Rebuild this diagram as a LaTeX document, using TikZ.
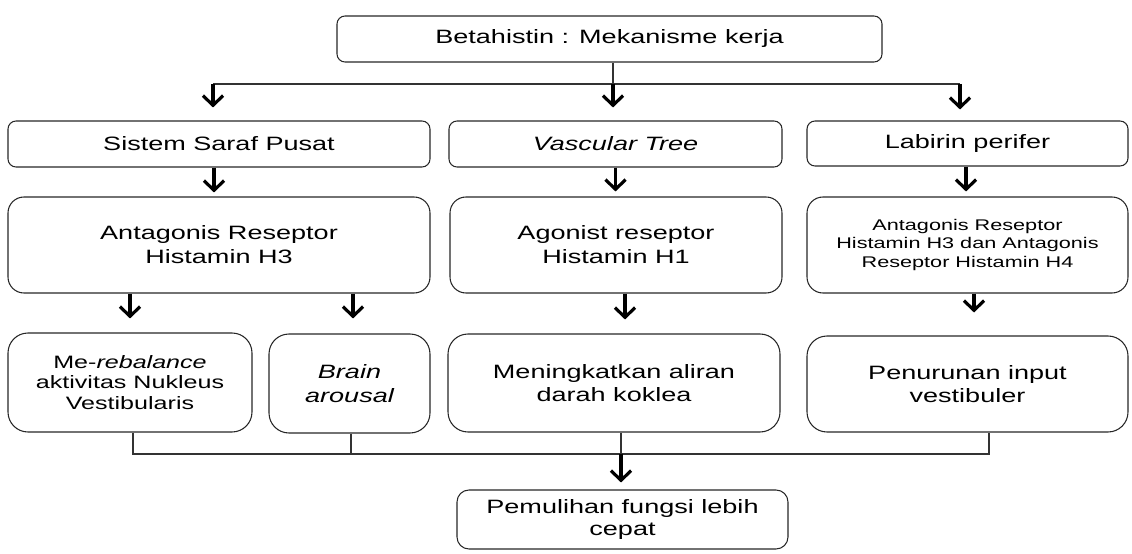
\documentclass[tikz,border=0pt]{standalone}
\usepackage{fontspec}
\setmainfont{Liberation Sans}[FakeStretch=1.4]
\usetikzlibrary{arrows.meta,calc}
\begin{document}
\begin{tikzpicture}[x=0.02cm,y=-0.02cm,
  box/.style={draw=black!85,line width=0.6pt,rounded corners=8*0.02cm,inner sep=0pt,align=center,
    font=\fontsize{11}{13.6}\selectfont},
  tall/.style={rounded corners=16*0.02cm},
  conn/.style={draw=black!80,line width=0.7pt},
  arr/.style={draw=black,line width=1.8pt,-{Straight Barb[length=5.5pt,width=11.5pt,line width=1.8pt]}},
]
\useasboundingbox (0,0) rectangle (1132,554);
% nodes
\node[box,minimum width=545*0.02cm,minimum height=46*0.02cm] (top) at (609.5,39) {Betahistin : Mekanisme kerja};
\node[box,minimum width=422*0.02cm,minimum height=46*0.02cm] (ssp) at (219,144) {Sistem Saraf Pusat};
\node[box,minimum width=333*0.02cm,minimum height=46*0.02cm] (vt) at (615.5,144) {\itshape Vascular Tree};
\node[box,minimum width=321*0.02cm,minimum height=45*0.02cm] (lp) at (967.5,143.5) {Labirin perifer};
\node[box,tall,minimum width=422*0.02cm,minimum height=96*0.02cm] (ah3) at (219,245) {Antagonis Reseptor\\Histamin H3};
\node[box,tall,minimum width=332*0.02cm,minimum height=96*0.02cm] (ah1) at (616,245) {Agonist reseptor\\Histamin H1};
\node[box,tall,minimum width=321*0.02cm,minimum height=96*0.02cm,font=\fontsize{8.8}{10.4}\selectfont] (ah34) at (967.5,245) {Antagonis Reseptor\\Histamin H3 dan Antagonis\\Reseptor Histamin H4};
\node[box,tall,rounded corners=20*0.02cm,minimum width=244*0.02cm,minimum height=99*0.02cm,font=\fontsize{10.2}{11.6}\selectfont] (reb) at (130,382.5) {Me-\textit{rebalance}\\aktivitas Nukleus\\Vestibularis};
\node[box,tall,rounded corners=20*0.02cm,minimum width=161*0.02cm,minimum height=99*0.02cm] (brain) at (349.5,383.5) {\itshape Brain\\\itshape arousal};
\node[box,tall,rounded corners=20*0.02cm,minimum width=332*0.02cm,minimum height=98*0.02cm,font=\fontsize{11}{12.9}\selectfont] (mak) at (614,383) {Meningkatkan aliran\\darah koklea};
\node[box,tall,rounded corners=20*0.02cm,minimum width=321*0.02cm,minimum height=96*0.02cm,font=\fontsize{11}{13.4}\selectfont] (pen) at (967.5,384) {Penurunan input\\vestibuler};
\node[box,rounded corners=12*0.02cm,minimum width=331*0.02cm,minimum height=59*0.02cm,font=\fontsize{11}{12.5}\selectfont] (pem) at (622.5,519.5) {Pemulihan fungsi lebih\\cepat};
% top distribution
\coordinate (hl) at (213,84);
\coordinate (hc) at (613,84);
\coordinate (hr) at (960,84);
\draw[conn] (hc |- top.south) -- (hc);
\draw[conn] (hl) -- (hr);
\draw[arr,shorten >=13*0.02cm] (hl) -- (hl |- ssp.north);
\draw[arr,shorten >=13*0.02cm] (hc) -- (hc |- vt.north);
\draw[arr,shorten >=11*0.02cm] (hr) -- (hr |- lp.north);
% row 2 -> row 3
\draw[arr,shorten >=4*0.02cm] ([xshift=-5*0.02cm]ssp.south) -- ([xshift=-5*0.02cm]ssp.south |- ah3.north);
\draw[arr,shorten >=5*0.02cm] (vt.south) -- (vt.south |- ah1.north);
\draw[arr,shorten >=5*0.02cm] ([xshift=-1.5*0.02cm]lp.south) -- ([xshift=-1.5*0.02cm]lp.south |- ah34.north);
% row 3 -> row 4
\draw[arr,shorten >=14*0.02cm] (reb.north |- ah3.south) -- (reb.north);
\draw[arr,shorten >=15*0.02cm] ([xshift=3.5*0.02cm]brain.north |- ah3.south) -- ([xshift=3.5*0.02cm]brain.north);
\draw[arr,shorten >=14*0.02cm] ([xshift=9*0.02cm]ah1.south) -- ([xshift=9*0.02cm]ah1.south |- mak.north);
\draw[arr,shorten >=23*0.02cm] ([xshift=6.5*0.02cm]ah34.south) -- ([xshift=6.5*0.02cm]ah34.south |- pen.north);
% bottom collection
\coordinate (bl) at (133,454);
\coordinate (bc) at (621,454);
\coordinate (br) at (989,454);
\draw[conn] (bl |- reb.south) -- (bl) -- (br) -- (br |- pen.south);
\draw[conn] ([xshift=1.5*0.02cm]brain.south) -- ([xshift=1.5*0.02cm]brain.south |- bl);
\draw[conn] (bc |- mak.south) -- (bc);
\draw[arr,shorten >=7*0.02cm] (bc) -- (bc |- pem.north);
\end{tikzpicture}
\end{document}
